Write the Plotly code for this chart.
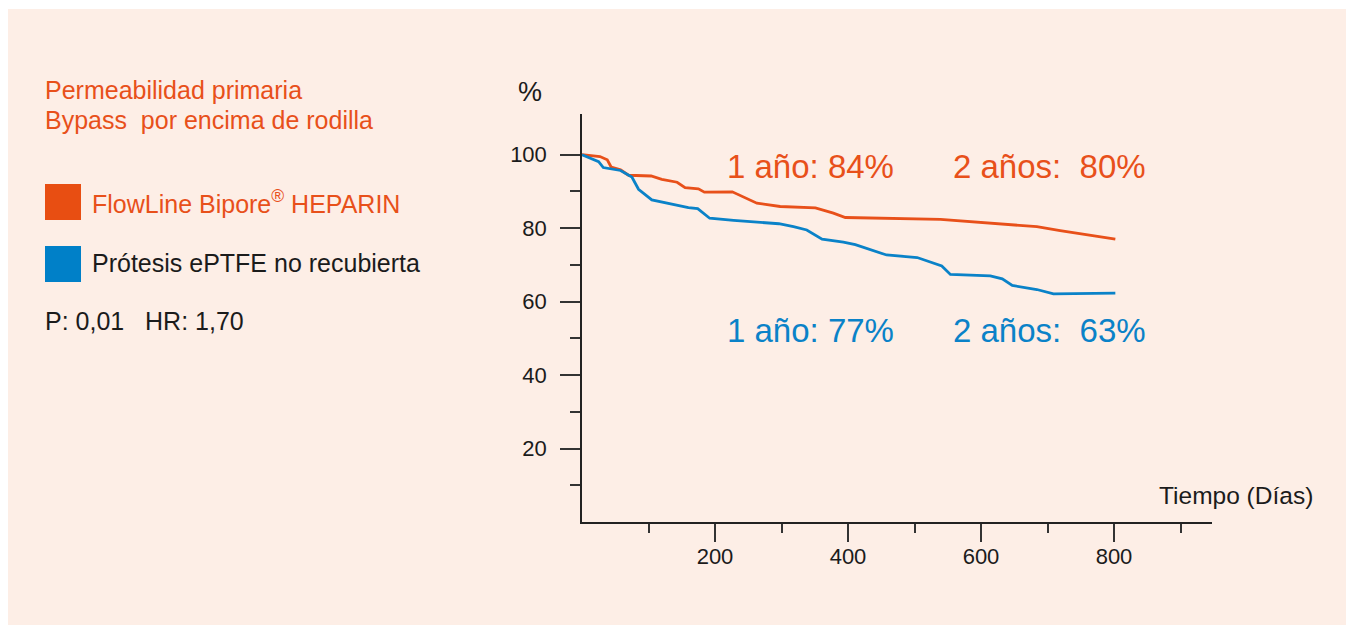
import plotly.graph_objects as go

# ---------------- data ----------------
dias_heparin = [0, 27, 38, 44, 58, 70, 104, 120, 143, 155, 175, 184, 226, 245, 263, 298,
                351, 378, 396, 539, 684, 719, 802]
perm_heparin = [100, 99.5, 98.6, 96.6, 95.9, 94.4, 94.2, 93.3, 92.5, 91.0, 90.7, 89.8, 89.9,
                88.2, 86.8, 85.9, 85.5, 84.1, 82.9, 82.4, 80.4, 79.3, 77.0]

dias_eptfe = [0, 25, 32, 58, 75, 85, 105, 138, 160, 174, 192, 228, 273, 296, 318, 338, 361,
              393, 411, 458, 504, 519, 541, 554, 614, 632, 647, 684, 709, 802]
perm_eptfe = [100, 98.1, 96.5, 95.7, 93.9, 90.6, 87.7, 86.4, 85.6, 85.3, 82.7, 82.1, 81.6,
              81.2, 80.4, 79.5, 77.0, 76.2, 75.5, 72.7, 72.0, 71.1, 69.7, 67.4, 67.0, 66.2,
              64.4, 63.3, 62.1, 62.3]

y_major_ticks = [20, 40, 60, 80, 100]
y_minor_ticks = [10, 30, 50, 70, 90]
x_major_ticks = [200, 400, 600, 800]
x_minor_ticks = [100, 300, 500, 700, 900]

titulo = ["Permeabilidad primaria", "Bypass\u00a0\u00a0por encima de rodilla"]
leyenda = ["FlowLine Bipore<sup>®</sup> HEPARIN", "Prótesis ePTFE no recubierta"]
estadistica = "P: 0,01\u00a0\u00a0\u00a0HR: 1,70"
anotaciones_heparin = ["1 año: 84%", "2 años:\u00a0\u00a080%"]
anotaciones_eptfe = ["1 año: 77%", "2 años:\u00a0\u00a063%"]

# ---------------- styling ----------------
ORANGE = "#E8501A"
BLUE = "#0A82C8"
BLACK = "#1b1b1b"
PANEL = "#FDEEE6"
FONT = "Liberation Sans, Arial, Helvetica, sans-serif"

# the page body adds an 8px margin; lay the figure out in page coordinates
OFF = 8
W, H = 1354 - OFF, 625 - OFF
ML, MR, MT, MB = 582 - OFF, 142, 114 - OFF, 103
PW, PH = W - ML - MR, H - MT - MB


def px(x):
    return (x - OFF - ML) / PW


def py(y):
    return (H - MB - (y - OFF)) / PH


fig = go.Figure()
fig.add_trace(go.Scatter(x=dias_heparin, y=perm_heparin, mode="lines",
                         name="FlowLine Bipore HEPARIN",
                         line=dict(color=ORANGE, width=2.8), showlegend=False))
fig.add_trace(go.Scatter(x=dias_eptfe, y=perm_eptfe, mode="lines",
                         name="Prótesis ePTFE no recubierta",
                         line=dict(color=BLUE, width=2.8), showlegend=False))

shapes = [
    dict(type="rect", xref="paper", yref="paper", x0=px(6), x1=px(1351), y0=py(9), y1=py(640),
         fillcolor=PANEL, line=dict(width=0), layer="below"),
    dict(type="rect", xref="paper", yref="paper", x0=px(45), x1=px(81), y0=py(184), y1=py(220),
         fillcolor="#E84E12", line=dict(width=0)),
    dict(type="rect", xref="paper", yref="paper", x0=px(45), x1=px(81), y0=py(246), y1=py(282),
         fillcolor="#0080C8", line=dict(width=0)),
]


def text(t, x, baseline, size, color, xanchor="left"):
    return dict(text=t, xref="paper", yref="paper", x=px(x), y=py(baseline - 0.35 * size),
                xanchor=xanchor, yanchor="middle", showarrow=False,
                font=dict(family=FONT, size=size, color=color))


annotations = [
    text(titulo[0], 43, 99, 25, ORANGE),
    text(titulo[1], 43, 128.5, 25, ORANGE),
    text(leyenda[0], 90, 211, 25, ORANGE),
    text(leyenda[1], 90, 272, 25, BLACK),
    text(estadistica, 43, 330, 25, BLACK),
    text("%", 516, 101, 27, BLACK),
    text("Tiempo (Días)", 1157, 504, 24.5, BLACK),
    text(anotaciones_heparin[0], 725, 177.7, 33, ORANGE),
    text(anotaciones_heparin[1], 951, 177.7, 33, ORANGE),
    text(anotaciones_eptfe[0], 725, 342.3, 33, BLUE),
    text(anotaciones_eptfe[1], 951, 342.3, 33, BLUE),
]

fig.update_layout(
    width=W, height=H,
    margin=dict(l=ML, r=MR, t=MT, b=MB, pad=0),
    paper_bgcolor="white",
    plot_bgcolor="rgba(0,0,0,0)",
    shapes=shapes,
    annotations=annotations,
    font=dict(family=FONT, color=BLACK),
)

fig.update_xaxes(
    range=[0, PW / 0.665], showgrid=False, zeroline=False,
    showline=True, linecolor="#222222", linewidth=1.5,
    tickmode="array", tickvals=x_major_ticks, ticks="outside", ticklen=18,
    tickwidth=1.5, tickcolor="#333333", ticklabelstandoff=-4,
    tickfont=dict(family=FONT, size=22, color=BLACK),
    minor=dict(tickmode="array", tickvals=x_minor_ticks, ticks="outside", ticklen=9,
               tickwidth=1.5, tickcolor="#333333", showgrid=False),
)
fig.update_yaxes(
    range=[0, PH / 3.673], showgrid=False, zeroline=False,
    showline=True, linecolor="#222222", linewidth=1.5,
    tickmode="array", tickvals=y_major_ticks, ticks="outside", ticklen=20,
    tickwidth=1.5, tickcolor="#333333", ticklabelstandoff=9,
    tickfont=dict(family=FONT, size=22, color=BLACK),
    minor=dict(tickmode="array", tickvals=y_minor_ticks, ticks="outside", ticklen=10,
               tickwidth=1.5, tickcolor="#333333", showgrid=False),
)

fig.write_html("out.html")
